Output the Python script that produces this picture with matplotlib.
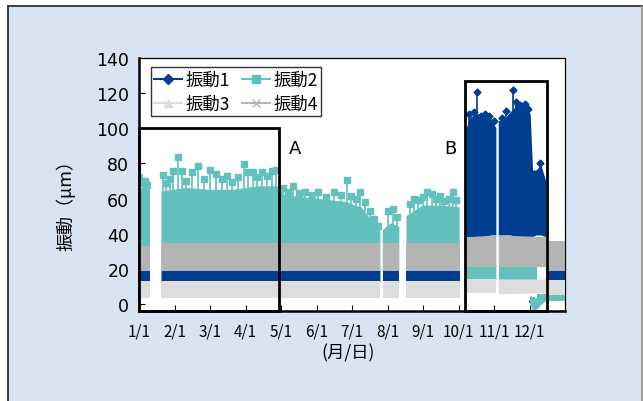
import numpy as np
import matplotlib.pyplot as plt
import matplotlib.patches as patches
from matplotlib.lines import Line2D

plt.rcParams['font.family'] = ['Noto Sans CJK JP', 'DejaVu Sans']

nan = np.nan

# x axis: days from 1/1, month ticks every 30 days
month_labels = ['1/1', '2/1', '3/1', '4/1', '5/1', '6/1', '7/1', '8/1', '9/1', '10/1', '11/1', '12/1']
series_names = ['振動1', '振動2', '振動3', '振動4']
colors = ['#003E92', '#62C1BD', '#DCDDDD', '#B4B4B5']
markers = ['D', 's', '^', 'x']

# 振動1 band (low/high envelope)
v1_day = [0, 9, nan, 19, 120, 204, nan, 206, 220, nan, 226, 271, nan,
          277, 280, 286, 292, 298, 302, nan, 304, 309, 314, 320, 326, 331, 333, 336, 340, 344, nan, 345, 360]
v1_low = [12.5, 12.5, nan, 12.5, 12.5, 12.5, nan, 12.5, 12.5, nan, 12.5, 12.5, nan,
          38, 38, 37, 38, 39, 39, nan, 39, 39, 39, 38, 38, 38, 38, 39, 39, 38, nan, 13, 13]
v1_high = [19, 19, nan, 19.5, 19.5, 19, nan, 19, 19, nan, 19, 19, nan,
           100, 106, 108, 108, 105, 100, nan, 104, 105, 109, 113, 113, 108, 76, 76, 79, 70, nan, 19.5, 19.5]
v1_peak_day = [279, 283, 286, 289, 292, 296, 300, 307, 310, 316, 319, 322, 326, 329, 339]
v1_peak = [108, 109, 120.7, 107, 108, 107, 104, 106, 110, 121.8, 115, 113, 114, 111, 80]
v1_drop_day = [333]
v1_drop = [1.5]

# 振動2
v2_day = [0, 9, nan, 19, 40, 60, 80, 100, 118, 122, 150, 175, 188, 196, 204, nan,
          206, 213, 220, nan, 226, 240, 255, 271, nan, 277, 302, nan, 304, 336, nan, 336, 360]
v2_low = [19, 19, nan, 19, 19, 19, 19, 19, 19, 19, 19, 19, 19, 19, 19, nan,
          19, 19, 19, nan, 19, 19, 19, 19, nan, 13.5, 13.5, nan, 13.5, 13.5, nan, 1.5, 1.5]
v2_high = [66, 66, nan, 64, 66, 65, 65, 67, 67, 62, 60, 58, 55, 48, 42, nan,
           42, 46, 44, nan, 50, 56, 56, 55, nan, 21, 22, nan, 21, 21, nan, 5.5, 5.5]
v2_dip_day = [330, 333, 336, 340, 343]
v2_dip_low = [1, -4.5, -3, 0, 1.5]
v2_dip_high = [5, 4, 3.5, 5, 5]
v2_peak_day = [0, 3, 5, 7, 20, 23, 26, 29, 33, 36, 40, 45, 50, 55, 60, 65, 70, 74, 79, 84,
               89, 92, 96, 100, 104, 108, 112, 116,
               122, 126, 130, 135, 140, 146, 151, 158, 165, 171, 176, 179, 183, 187, 191,
               195, 199, 202, 210, 215, 218,
               229, 232, 236, 240, 243, 248, 251, 254, 258, 262, 265, 268]
v2_peak = [72, 69, 70, 68, 73.4, 69, 71, 75.6, 83.6, 75.6, 70, 74.9, 78.5, 71, 76, 74, 71, 73, 69.5, 72,
           79.5, 75, 75, 72, 75, 73, 75.6, 76,
           66, 64, 67, 63, 63.7, 62, 64, 61, 64, 62, 70.6, 61.5, 60, 63.7, 58,
           53, 48.4, 44.4, 53, 54, 49.5,
           57, 60, 59, 61, 64, 62.5, 60, 61.5, 58.6, 60, 63.7, 59]

# 振動3
v3_day = [0, 9, nan, 19, 204, nan, 206, 220, nan, 226, 271, nan, 277, 302, nan, 304, 344, nan, 345, 360]
v3_low = [3.5, 3.5, nan, 3.5, 3.5, nan, 3.5, 3.5, nan, 3.5, 3.5, nan, 6, 6, nan, 5.5, 6, nan, 5, 5]
v3_high = [13, 13, nan, 13, 13, nan, 13, 13, nan, 13, 13, nan, 14, 14, nan, 14, 14, nan, 13.5, 13.5]

# 振動4
v4_day = [0, 9, nan, 19, 204, nan, 206, 220, nan, 226, 271, nan, 277, 302, nan, 304, 344, nan, 345, 360]
v4_low = [18.5, 18.5, nan, 19, 19, nan, 18.5, 18.5, nan, 18.5, 18.5, nan, 21, 21, nan, 21, 21, nan, 19, 19]
v4_high = [33, 33, nan, 34.5, 34.5, nan, 34.5, 34.5, nan, 34.5, 34.5, nan, 38, 39, nan, 39, 38, nan, 36, 36]

fig = plt.figure(figsize=(6.43, 4.02), dpi=100)
fig.patch.set_facecolor('white')
fig.add_artist(patches.Rectangle((8 / 643, 0), 634 / 643, 395 / 402, transform=fig.transFigure,
                                 facecolor='#D9E4F3', edgecolor='none', zorder=-10))
fig.add_artist(Line2D([8 / 643, 8 / 643], [0, 395 / 402], transform=fig.transFigure, color='#3a3a3a', lw=1.4))
fig.add_artist(Line2D([8 / 643, 642 / 643], [395 / 402, 395 / 402], transform=fig.transFigure, color='#3a3a3a', lw=1.4))
fig.add_artist(Line2D([642 / 643, 642 / 643], [0, 395 / 402], transform=fig.transFigure, color='#8a8a8a', lw=1.2))

ax = fig.add_axes([139 / 643, 90 / 402, 426 / 643, 253 / 402])
ax.set_facecolor('white')

# bands
ax.fill_between(v1_day, v1_low, v1_high, color=colors[0], lw=0, zorder=2)
ax.vlines(v1_peak_day, 60, v1_peak, color=colors[0], lw=1.2, zorder=2)
ax.plot(v1_peak_day, v1_peak, 'D', color=colors[0], ms=3.5, zorder=2)
ax.plot(v1_drop_day, v1_drop, 'D', color=colors[0], ms=4, zorder=2)

ax.fill_between(v2_day, v2_low, v2_high, color=colors[1], lw=0, zorder=3)
ax.fill_between(v2_dip_day, v2_dip_low, v2_dip_high, color=colors[1], lw=0, zorder=3)
ax.vlines(v2_peak_day, 40, v2_peak, color=colors[1], lw=1.2, zorder=3)
ax.plot(v2_peak_day, v2_peak, 's', color=colors[1], ms=4, zorder=3)

ax.fill_between(v3_day, v3_low, v3_high, color=colors[2], lw=0, zorder=4)
ax.fill_between(v4_day, v4_low, v4_high, color=colors[3], lw=0, zorder=5)

# boxes A and B
ax.add_patch(patches.Rectangle((0, -4), 118, 104, fill=False, edgecolor='black', lw=2, clip_on=False, zorder=6))
ax.add_patch(patches.Rectangle((275.5, -4), 69.5, 131, fill=False, edgecolor='black', lw=2, clip_on=False, zorder=6))
ax.text(132, 89, 'A', fontsize=13, ha='center', va='center', family='DejaVu Sans')
ax.text(263.5, 89, 'B', fontsize=13, ha='center', va='center', family='DejaVu Sans')

ax.set_xlim(0, 360)
ax.set_ylim(-4, 140)
ax.set_xticks(range(0, 360, 30))
ax.set_xticklabels(month_labels, fontsize=11)
ax.set_yticks(range(0, 141, 20))
ax.set_yticklabels([str(v) for v in range(0, 141, 20)], fontsize=12.5, family='DejaVu Sans')
ax.tick_params(axis='y', direction='in', length=4, pad=7)
ax.tick_params(axis='x', direction='in', length=4, pad=8)
for s in ['left', 'bottom']:
    ax.spines[s].set_linewidth(1.8)
for s in ['top', 'right']:
    ax.spines[s].set_linewidth(0.9)

# legend filled row-wise: 振動1 振動2 / 振動3 振動4
order = [0, 2, 1, 3]
handles = [Line2D([], [], color=colors[i], marker=markers[i], ms=5.5, lw=1.5) for i in order]
leg = ax.legend(handles, [series_names[i] for i in order], ncol=2, loc='upper left',
                bbox_to_anchor=(0.028, 0.964), fontsize=12.5, frameon=True, fancybox=False,
                handlelength=1.6, handletextpad=0.2, columnspacing=0.7, borderpad=0.2,
                labelspacing=0.35, borderaxespad=0)
leg.get_frame().set_edgecolor('black')
leg.get_frame().set_linewidth(1.0)

fig.text(66 / 643, 1 - 201 / 402, '振動（μm）', rotation=90, ha='center', va='center', fontsize=13)
fig.text(348 / 643, 1 - 353 / 402, '(月/日)', ha='center', va='center', fontsize=12.5)

fig.savefig('out.png', dpi=100)
